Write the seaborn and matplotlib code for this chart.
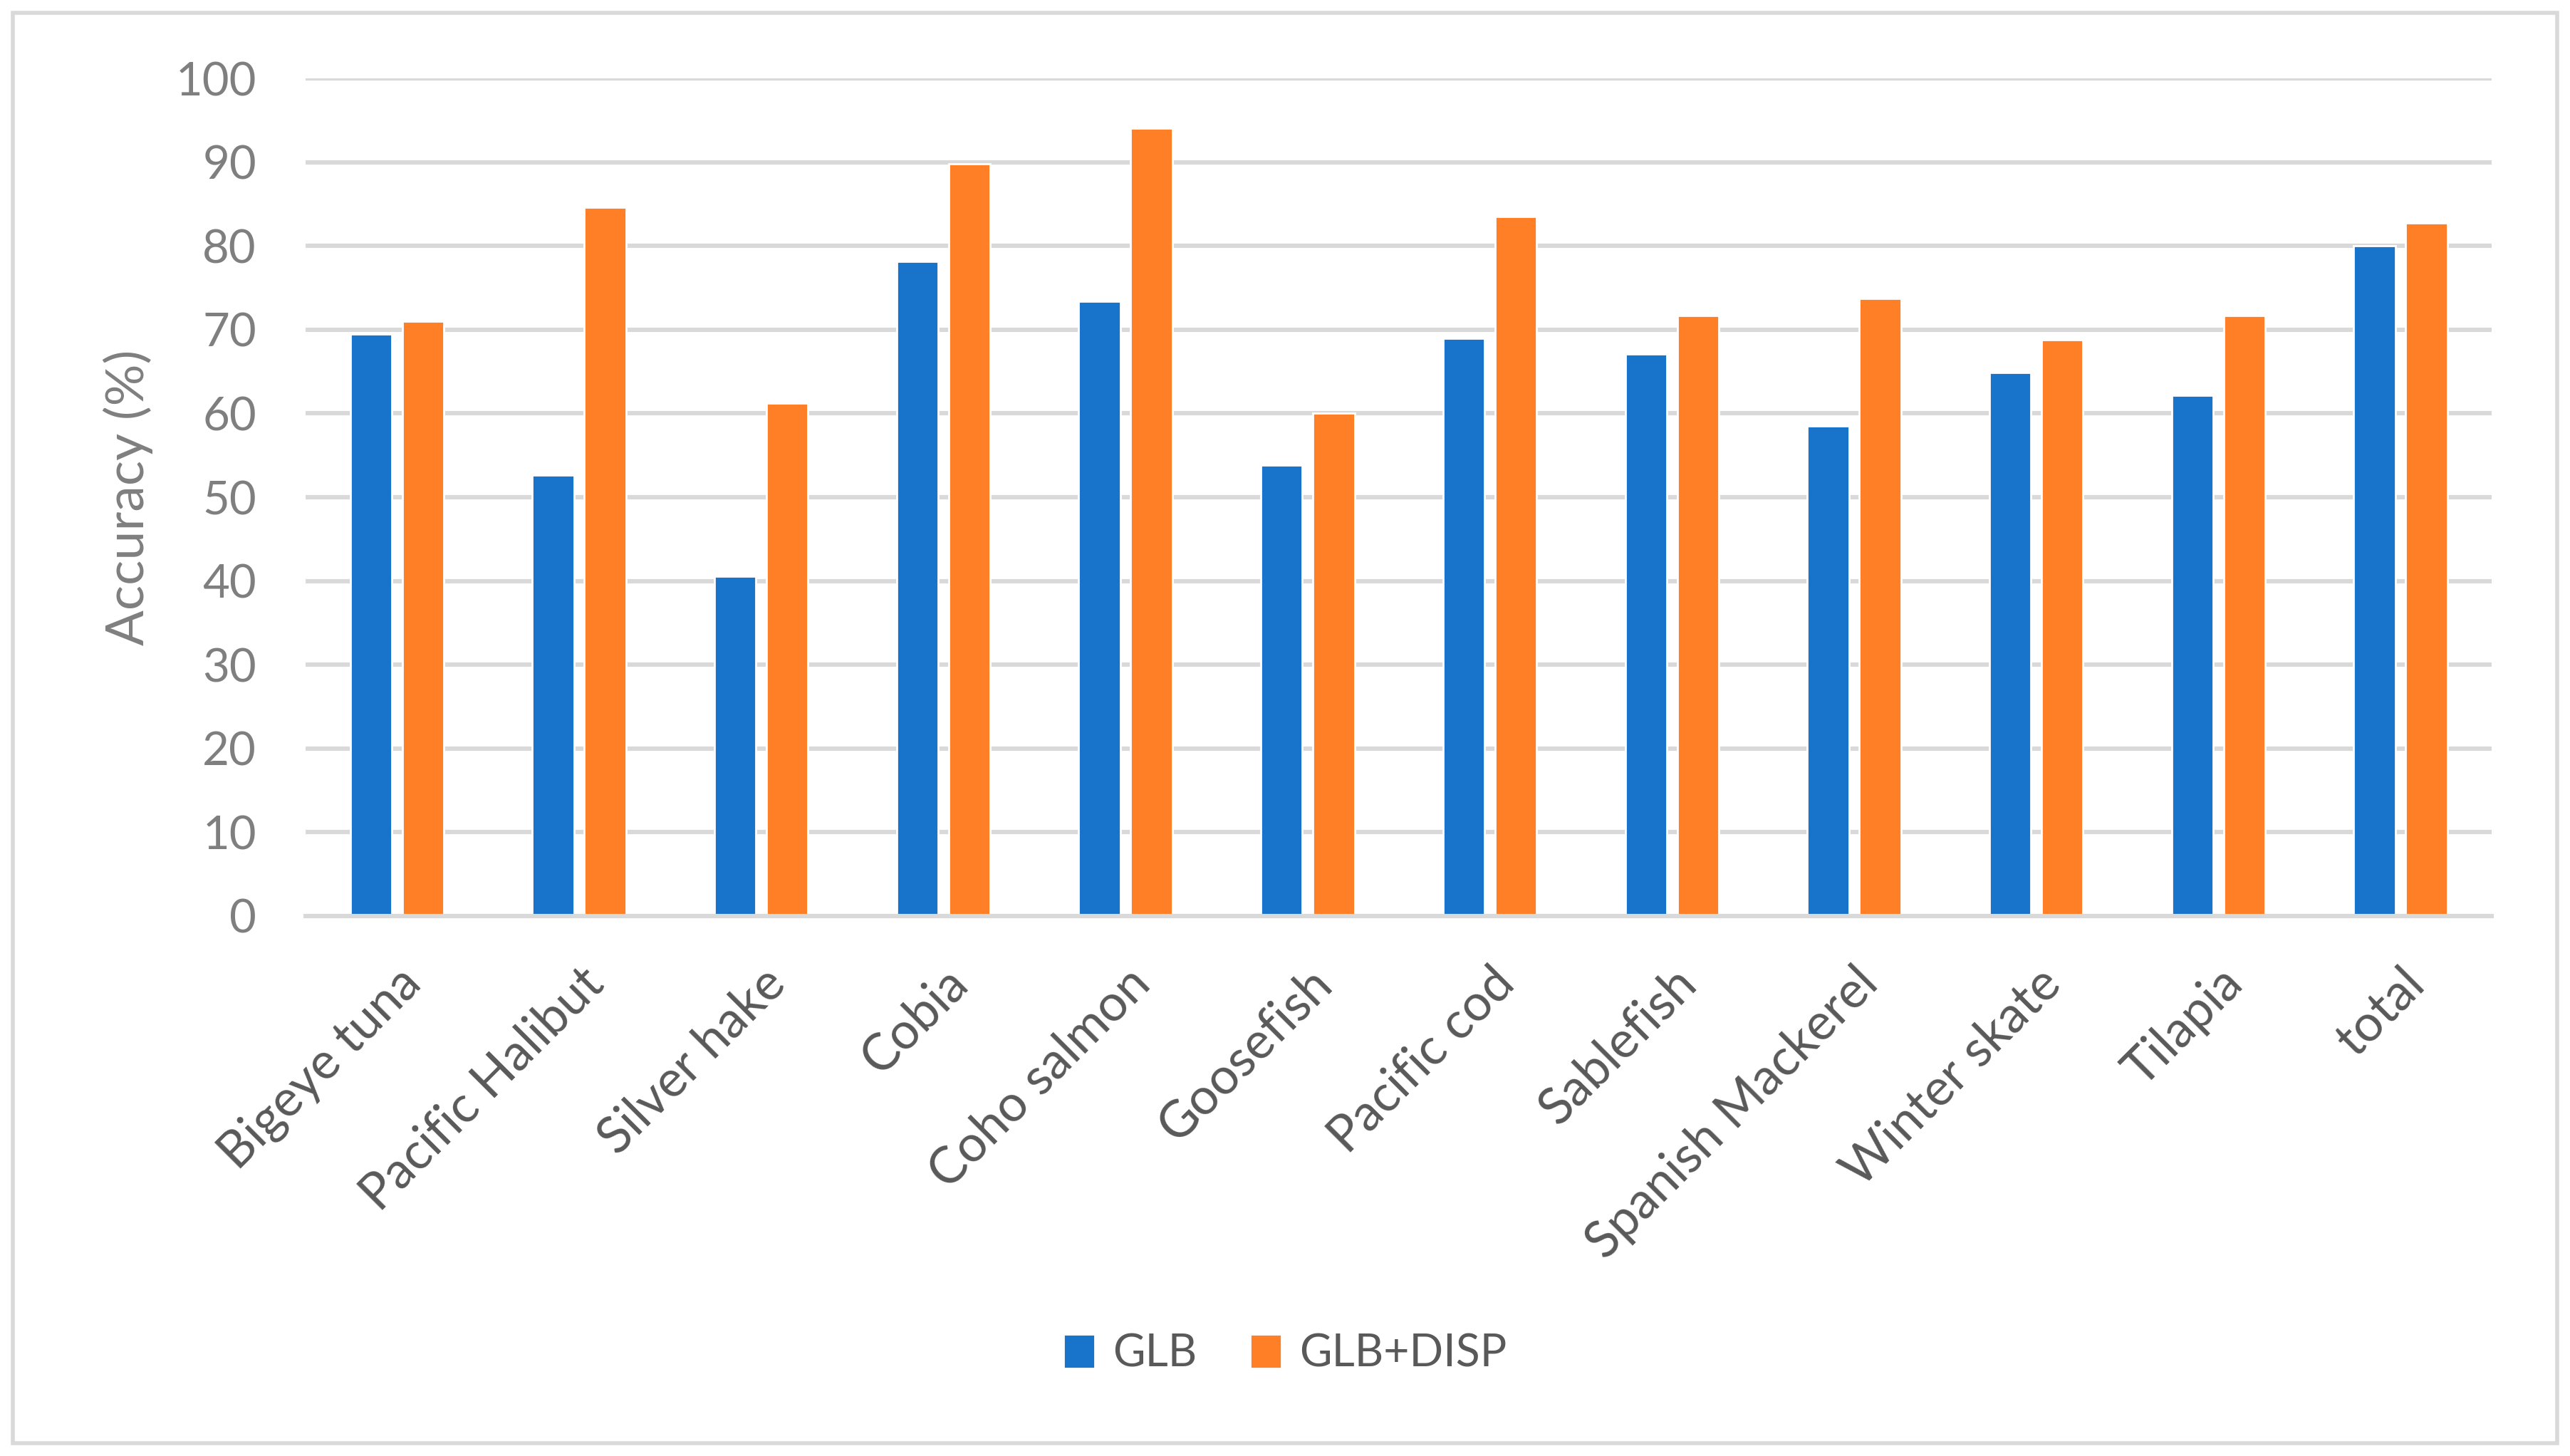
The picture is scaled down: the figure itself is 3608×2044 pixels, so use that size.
import pandas as pd
import numpy as np

import matplotlib.pyplot as plt
import seaborn as sns
from matplotlib.patches import Rectangle

species = ['Bigeye tuna', 'Pacific Halibut', 'Silver hake', 'Cobia', 'Coho salmon',
           'Goosefish', 'Pacific cod', 'Sablefish', 'Spanish Mackerel',
           'Winter skate', 'Tilapia', 'total']
glb = [69.5, 52.6, 40.6, 78.2, 73.4, 53.8, 69.0, 67.1, 58.5, 64.9, 62.2, 80.0]
glb_disp = [71.0, 84.6, 61.2, 89.8, 94.1, 60.0, 83.5, 71.7, 73.7, 68.8, 71.7, 82.8]
methods = ['GLB', 'GLB+DISP']
colors = ['#1874CB', '#FF7F27']

df = pd.DataFrame({
    'Species': species * 2,
    'Method': ['GLB'] * len(species) + ['GLB+DISP'] * len(species),
    'Accuracy': glb + glb_disp
})

sns.set_style('white')
plt.rcParams['font.family'] = ['Lato', 'DejaVu Sans']

fig = plt.figure(figsize=(18.04, 10.22), dpi=200)
ax = fig.add_axes([0.119, 0.371, 0.8505, 0.575])

sns.barplot(data=df, x='Species', y='Accuracy', hue='Method', hue_order=methods,
            palette=colors, width=0.571, gap=0.2, saturation=1, errorbar=None, ax=ax)

ax.set_ylim(0, 100)
ax.set_yticks(np.arange(0, 101, 10))
ax.yaxis.grid(True, color='#D9D9D9', linewidth=2.2)
ax.set_axisbelow(True)
for s in ['top', 'right', 'left']:
    ax.spines[s].set_visible(False)
ax.spines['bottom'].set_color('#D9D9D9')
ax.spines['bottom'].set_linewidth(2.2)
ax.set_xlim(-0.5, len(species) - 0.5)

ax.tick_params(axis='y', length=0, pad=25, labelsize=23.5, labelcolor='#7F7F7F')
ax.tick_params(axis='x', length=0, pad=22, labelsize=25.5, labelcolor='#595959')
plt.setp(ax.get_xticklabels(), rotation=45, ha='right', va='top', rotation_mode='anchor')

ax.set_xlabel('')
ax.set_ylabel('Accuracy (%)', fontsize=26.5, color='#7F7F7F')
ax.yaxis.set_label_coords(-0.07, 0.5)

ax.legend(loc='center', bbox_to_anchor=(0.5, 0.07), bbox_transform=fig.transFigure,
          ncol=2, frameon=False, fontsize=22.5, labelcolor='#595959',
          handlelength=0.7, handleheight=0.8, handletextpad=0.4, columnspacing=1.2)

fig.patches.append(Rectangle((0.005, 0.009), 0.990, 0.982, transform=fig.transFigure,
                             fill=False, edgecolor='#D9D9D9', linewidth=2))

fig.savefig('out.png', dpi=200)
